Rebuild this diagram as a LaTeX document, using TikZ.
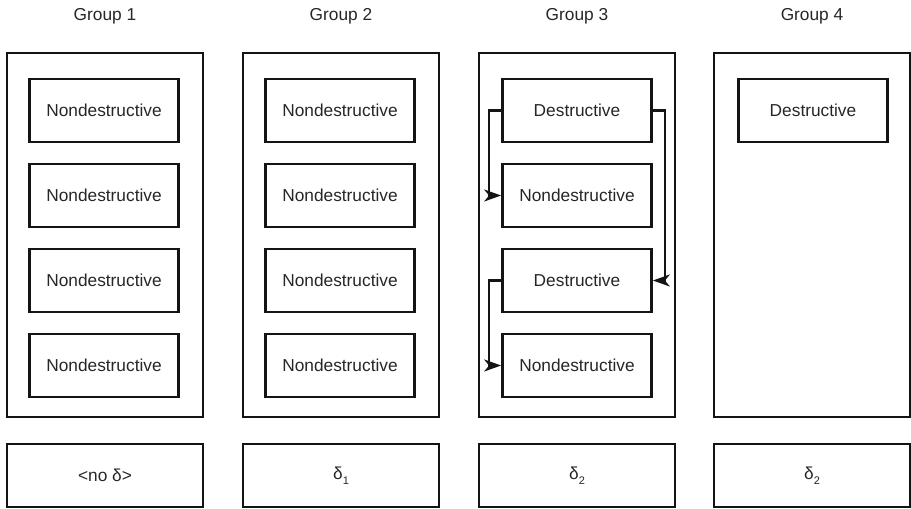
\documentclass[tikz,border=0pt]{standalone}
\usepackage{fontspec}
\setmainfont{Liberation Sans}
\usetikzlibrary{arrows.meta}
\begin{document}
\begin{tikzpicture}[x=1pt,y=-1pt,
  every node/.style={font=\fontsize{17.3}{20}\selectfont, text=black!85},
  grouplabel/.style={inner sep=0},
  groupbox/.style={draw=black!92, line width=2.8pt, minimum width=196pt, minimum height=364pt, inner sep=0},
  testbox/.style={draw=black!92, line width=2.7pt, minimum width=149pt, minimum height=63pt, inner sep=0},
  deltabox/.style={draw=black!92, line width=2.7pt, minimum width=196pt, minimum height=63pt, inner sep=0},
  flow/.style={draw=black!92, line width=2.3pt, -{Stealth[length=17pt,width=12pt,inset=5pt]}}]
\useasboundingbox (0,0) rectangle (911,509);

% column frames, headings and the delta boxes below them
\foreach \i/\cx in {1/105,2/341,3/577,4/812}{
  \node[grouplabel] (label\i) at (\cx,16) {Group \i};
  \node[groupbox] (g\i) at (\cx,235) {};
}
\node[deltabox] (d1) at (105,475.5) {<no δ>};
\node[deltabox] (d2) at (341,475.5) {δ\raisebox{-5pt}{\fontsize{11}{11}\selectfont 1}};
\node[deltabox] (d3) at (577,475.5) {δ\raisebox{-5pt}{\fontsize{11}{11}\selectfont 2}};
\node[deltabox] (d4) at (812,475.5) {δ\raisebox{-5pt}{\fontsize{11}{11}\selectfont 2}};

% Group 1
\node[testbox] (g1a) at (104,110.5) {Nondestructive};
\node[testbox] (g1b) at (104,195.5) {Nondestructive};
\node[testbox] (g1c) at (104,280.5) {Nondestructive};
\node[testbox] (g1d) at (104,365.5) {Nondestructive};

% Group 2
\node[testbox] (g2a) at (340,110.5) {Nondestructive};
\node[testbox] (g2b) at (340,195.5) {Nondestructive};
\node[testbox] (g2c) at (340,280.5) {Nondestructive};
\node[testbox] (g2d) at (340,365.5) {Nondestructive};

% Group 3
\node[testbox] (g3a) at (577,110.5) {Destructive};
\node[testbox] (g3b) at (577,195.5) {Nondestructive};
\node[testbox] (g3c) at (577,280.5) {Destructive};
\node[testbox] (g3d) at (577,365.5) {Nondestructive};

% Group 4
\node[testbox] (g4a) at (813,110.5) {Destructive};

% sample flow in Group 3
\draw[flow] (g3a.west) -- ++(-12,0) |- (g3b.west);
\draw[flow] (g3a.east) -- ++(12,0) |- (g3c.east);
\draw[flow] (g3c.west) -- ++(-12,0) |- (g3d.west);
\end{tikzpicture}
\end{document}
